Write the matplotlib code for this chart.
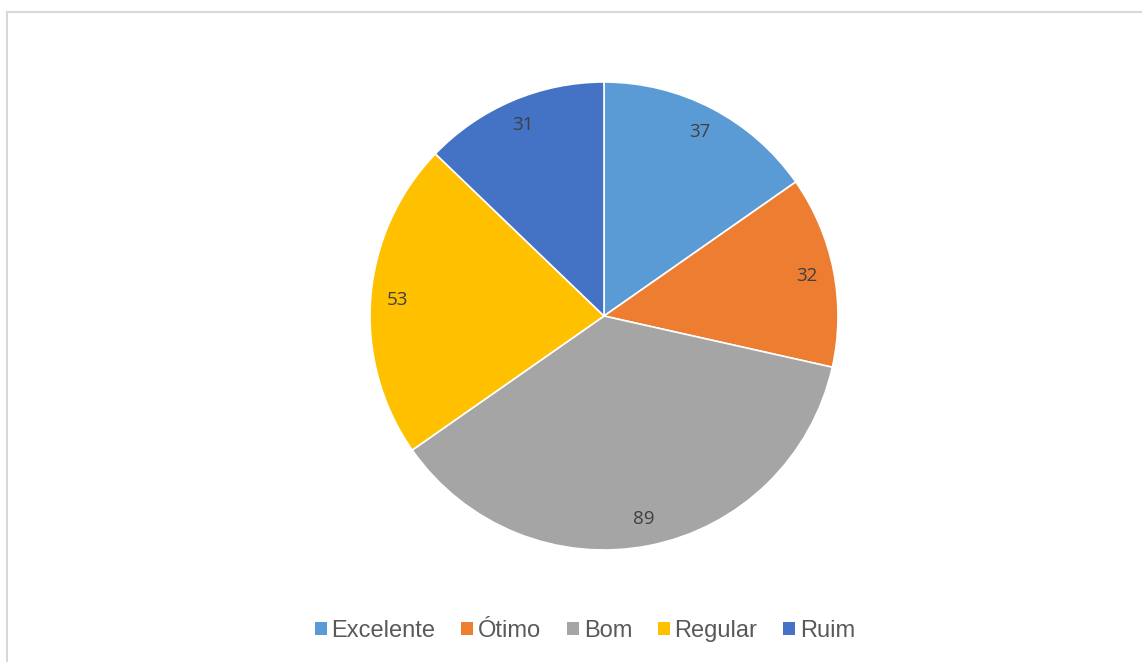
import matplotlib.pyplot as plt
from matplotlib.patches import Patch
from matplotlib.lines import Line2D

categorias = ['Excelente', 'Ótimo', 'Bom', 'Regular', 'Ruim']
valores = [37, 32, 89, 53, 31]
cores = ['#5B9BD5', '#ED7D31', '#A5A5A5', '#FFC000', '#4472C4']

W, H = 1142, 662
fig = plt.figure(figsize=(W / 100, H / 100), dpi=100)

# borda cinza do grafico (so topo e esquerda aparecem)
fig.add_artist(Line2D([7 / W, 7 / W], [0, 1 - 12 / H], color='#D9D9D9', lw=1.5))
fig.add_artist(Line2D([7 / W, 1], [1 - 12 / H, 1 - 12 / H], color='#D9D9D9', lw=1.5))

cx, cy, r = 604, 316, 234
ax = fig.add_axes([(cx - r) / W, (H - cy - r) / H, 2 * r / W, 2 * r / H])

total = sum(valores)
ax.pie(valores, colors=cores, startangle=90, counterclock=False,
       autopct=lambda p: '%d' % round(p * total / 100), pctdistance=0.885,
       wedgeprops=dict(edgecolor='white', linewidth=1.2),
       textprops=dict(color='#404040', fontsize=13.5, family='Open Sans'))
ax.set_xlim(-1, 1)
ax.set_ylim(-1, 1)
ax.axis('off')

handles = [Patch(facecolor=c, edgecolor='none') for c in cores]
fig.legend(handles, categorias, loc='center', bbox_to_anchor=(585 / W, 1 - 631 / H),
           ncol=5, frameon=False, handlelength=0.5, handleheight=0.5,
           handletextpad=0.2, columnspacing=1.1,
           prop=dict(family='Liberation Sans', size=17), labelcolor='#595959')

fig.savefig('out.png', dpi=100)
